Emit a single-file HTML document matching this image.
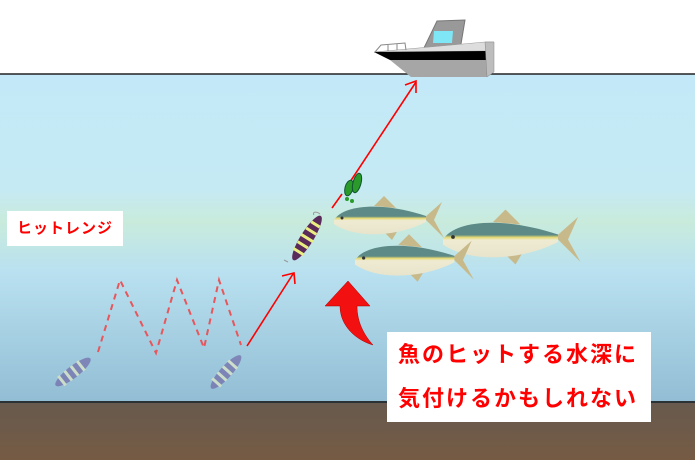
<!DOCTYPE html>
<html><head><meta charset="utf-8"><style>
html,body{margin:0;padding:0;background:#fff;}
.wrap{position:relative;width:695px;height:460px;overflow:hidden;font-family:"Liberation Sans","Noto Sans CJK JP",sans-serif;}
.lbl{position:absolute;background:#fff;color:#f00;font-weight:bold;}
</style></head><body><div class="wrap">
<svg width="695" height="460" viewBox="0 0 695 460" style="position:absolute;left:0;top:0">
<defs>
<linearGradient id="w" x1="0" y1="0" x2="0" y2="1">
<stop offset="0" stop-color="#c3e9f8"/>
<stop offset="0.35" stop-color="#c5eaf4"/>
<stop offset="0.45" stop-color="#c9ebdc"/>
<stop offset="0.6" stop-color="#b9e1f0"/>
<stop offset="1" stop-color="#92bdd4"/>
</linearGradient>
<linearGradient id="g" x1="0" y1="0" x2="0" y2="1">
<stop offset="0" stop-color="#675a4e"/><stop offset="1" stop-color="#765b44"/>
</linearGradient>
<linearGradient id="fb" x1="0" y1="0" x2="0" y2="1">
<stop offset="0" stop-color="#5d8a86"/><stop offset="0.35" stop-color="#5d8a86"/>
<stop offset="0.42" stop-color="#e4d770"/><stop offset="0.5" stop-color="#efebd2"/><stop offset="1" stop-color="#e8e4cc"/>
</linearGradient>
<g id="fish">
<path d="M40,-12 L50,-22 L62,-10 Z" fill="#c8b98a"/>
<path d="M90,0 L108,-16 L100,2 L110,20 Z" fill="#c8b98a"/>
<path d="M50,14 L58,22 L64,12 Z" fill="#c8b98a"/>
<path d="M0,2 C10,-14 50,-16 92,-2 L92,4 C60,20 20,20 0,6 Z" fill="url(#fb)"/>
<circle cx="8" cy="0" r="1.5" fill="#333"/>
</g>
</defs>
<rect x="0" y="0" width="695" height="74" fill="#fff"/>
<rect x="0" y="74" width="695" height="328" fill="url(#w)"/>
<line x1="0" y1="74" x2="695" y2="74" stroke="#222" stroke-width="1.5"/>
<rect x="0" y="402" width="695" height="58" fill="url(#g)"/>
<line x1="0" y1="402" x2="695" y2="402" stroke="#2a3236" stroke-width="2"/>
<!-- boat -->
<polygon points="423,50 437,21 465,20 460,50" fill="#999" stroke="#777"/>
<polygon points="434,31 453,31 452,43 433,43" fill="#7fe6f5"/>
<polygon points="374,52 485,42 494,42 486,51" fill="#ddd" stroke="#999" stroke-width="0.5"/>
<polygon points="374,52 486,51 486,60 390,60" fill="#000"/>
<polygon points="390,60 486,60 487,77 411,77" fill="#a6a6a6"/>
<polygon points="485,42 494,42 494,72 487,77" fill="#bdbdbd" stroke="#888" stroke-width="0.5"/>
<path d="M375,52 L381,45 L405,43 L406,50 M388,45 L388,51 M397,44 L397,50" fill="none" stroke="#888" stroke-width="1"/>
<!-- line arrows -->
<path d="M332,208 L342,194 M346,188 L416,82" stroke="#f00" stroke-width="1.6" fill="none"/>
<path d="M405,85 L416,81 L416,93" stroke="#f00" stroke-width="1.6" fill="none"/>
<path d="M247,346 L293,274" stroke="#f00" stroke-width="1.6" fill="none"/>
<path d="M282,276 L294,273 L295,284" stroke="#f00" stroke-width="1.6" fill="none"/>
<path d="M98,352 L120,280 L156,353 L177,280 L204,348 L219,280 L241,345" stroke="#e8555a" stroke-width="2" stroke-dasharray="6,5" fill="none"/>
<!-- exclamations -->
<ellipse cx="349" cy="188" rx="4" ry="8" fill="#2a9a2a" stroke="#153" transform="rotate(15 349 188)"/>
<ellipse cx="357" cy="183" rx="4" ry="10" fill="#2a9a2a" stroke="#153" transform="rotate(15 357 183)"/>
<circle cx="347" cy="199" r="2" fill="#2a9a2a"/><circle cx="352" cy="201" r="2" fill="#2a9a2a"/>
<!-- jigs -->
<path d="M288,262 L284,260 M320,214 C316,211 312,212 314,215" stroke="#999" stroke-width="1" fill="none"/>
<g transform="translate(307,238) rotate(-58)"><ellipse rx="26" ry="6.5" fill="#5a2a5a"/>
<path d="M-16,-6 v12 M-8,-6 v12 M0,-7 v14 M8,-6 v12 M16,-5 v10" stroke="#eaee80" stroke-width="3"/></g>
<g transform="translate(73,372) rotate(-38)" opacity="0.6"><ellipse rx="22" ry="6" fill="#6a5aa0"/>
<path d="M-14,-6 v12 M-6,-6 v12 M2,-6 v12 M10,-6 v12" stroke="#eef0c0" stroke-width="3"/></g>
<g transform="translate(226,372) rotate(-48)" opacity="0.6"><ellipse rx="22" ry="6" fill="#6a5aa0"/>
<path d="M-14,-6 v12 M-6,-6 v12 M2,-6 v12 M10,-6 v12" stroke="#eef0c0" stroke-width="3"/></g>
<!-- fish -->
<use href="#fish" transform="translate(334,218)"/>
<use href="#fish" transform="translate(443,237) scale(1.25)"/>
<use href="#fish" transform="translate(355,258) scale(1.08)"/>
<!-- red curved arrow -->
<path d="M348,281 L370,306 L357,306 C357,322 364,335 373,345 C356,340 340,326 340,306 L325,306 Z" fill="#f21010" stroke="#a00" stroke-width="0.5"/>
</svg>
<div class="lbl" style="left:7px;top:211px;width:116px;height:35px;line-height:35px;font-size:15px;text-align:center;letter-spacing:1px">ヒットレンジ</div>
<div class="lbl" style="left:387px;top:332px;width:264px;height:90px;font-size:22px;letter-spacing:2px;line-height:44px;padding-left:11px;box-sizing:border-box;padding-top:1px">魚のヒットする水深に<br>気付けるかもしれない</div>
</div></body></html>
